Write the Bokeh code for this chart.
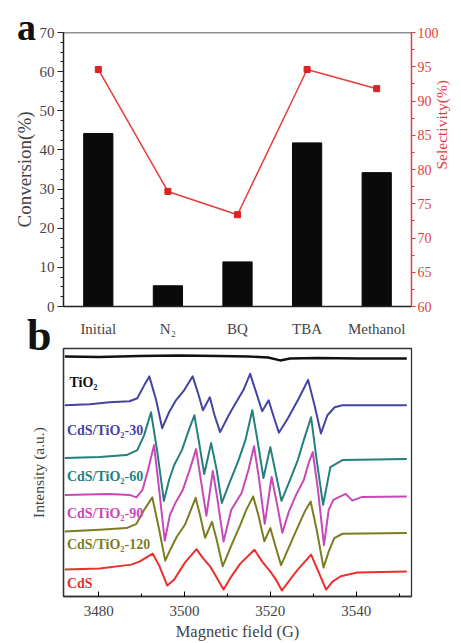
import math
from bokeh.plotting import figure
from bokeh.models import (Range1d, LinearAxis, FixedTicker, SingleIntervalTicker,
                          Label, Span, FactorRange, Div)
from bokeh.layouts import column
from bokeh.embed import file_html
from bokeh.resources import INLINE

SERIF = "Liberation Serif"

# ---------------- Panel a data ----------------
categories = ["Initial", "N\u2082", "BQ", "TBA", "Methanol"]
conversion = [44.2, 5.3, 11.4, 41.8, 34.2]
selectivity = [94.6, 76.8, 73.4, 94.6, 91.8]

# ---------------- Panel b data (EPR spectra) ----------------
field_tio2 = [3472.1, 3480.2, 3489.5, 3498.7, 3507.9, 3514.9, 3519.5, 3522.3, 3524.6, 3531.0, 3540.3, 3551.8]
int_tio2 = [241, 240.5, 241.5, 242, 241.5, 241, 240, 237, 239, 239.5, 239, 239]

field_30 = [3472.1, 3477.9, 3482.5, 3487.2, 3489.0, 3490.6, 3491.8, 3493.4, 3494.8, 3496.4, 3498.0,
            3499.9, 3501.9, 3503.1, 3504.3, 3505.9, 3507.0, 3508.3, 3510.3, 3511.9, 3513.7, 3515.3,
            3516.7, 3518.1, 3519.6, 3520.9, 3522.0, 3524.1, 3526.4, 3527.6, 3528.8, 3530.3, 3531.8,
            3533.3, 3535.0, 3536.8, 3544.9, 3551.8]
int_30 = [192, 193, 195, 196, 199, 212, 221, 197, 169, 185, 197,
          207, 221, 205, 187, 200, 182, 165, 182, 194, 207, 223.5,
          205, 186, 197, 179, 164.5, 179, 197, 207, 217.5, 192, 163.7,
          182, 190, 192, 192, 192]

field_60 = [3472.1, 3480.2, 3486.5, 3489.0, 3490.6, 3492.2, 3493.6, 3495.2, 3496.4, 3497.6, 3499.4,
            3501.0, 3502.3, 3503.3, 3504.6, 3506.2, 3507.5, 3508.7, 3510.3, 3512.6, 3514.2, 3515.8,
            3517.0, 3518.4, 3520.0, 3521.1, 3522.6, 3524.6, 3526.4, 3527.8, 3529.5, 3530.8, 3532.3,
            3534.0, 3536.8, 3551.8]
int_60 = [139, 140, 142, 147, 162, 185, 147, 96, 117, 132, 147,
          167, 182, 157, 123, 154, 127, 94, 112, 137, 157, 187,
          157, 119, 150, 127, 96, 117, 137, 157, 180, 137, 92,
          130, 137, 138]

field_90 = [3472.1, 3482.5, 3487.2, 3488.8, 3490.2, 3491.5, 3492.9, 3494.1, 3495.4, 3496.6, 3498.0,
            3499.6, 3501.2, 3502.7, 3503.8, 3505.1, 3506.6, 3507.7, 3509.1, 3510.9, 3513.3, 3514.9,
            3516.2, 3517.4, 3518.7, 3520.3, 3521.6, 3522.8, 3524.3, 3526.0, 3527.8, 3529.0, 3529.9,
            3531.1, 3532.5, 3533.6, 3534.7, 3536.1, 3537.6, 3539.1, 3541.4, 3551.8]
int_90 = [102, 103, 102, 99.5, 107, 127, 152, 107, 56, 82, 95,
          107, 127, 148, 117, 81, 126, 97, 55.3, 87, 104, 127,
          151, 117, 73, 120, 92, 64, 85, 102, 117, 135, 145,
          107, 51.5, 87, 97, 100, 103, 96.3, 100, 100.3]

field_120 = [3472.1, 3480.2, 3486.5, 3488.8, 3490.6, 3492.5, 3494.1, 3495.5, 3496.9, 3498.2, 3500.1,
             3502.6, 3503.6, 3504.8, 3506.4, 3507.5, 3508.9, 3510.7, 3513.0, 3514.4, 3516.0, 3517.2,
             3518.6, 3520.0, 3521.1, 3522.5, 3524.6, 3526.8, 3528.0, 3529.4, 3530.8, 3532.4, 3533.6,
             3534.9, 3536.8, 3551.8]
int_120 = [65.3, 67, 68.7, 73, 87, 99.5, 67, 36, 49, 60, 72,
           99, 82, 59, 75, 57, 30.3, 49, 72, 87, 100.5, 82,
           55.5, 68.7, 52, 31.5, 52, 73.7, 85, 95.3, 67, 29, 45,
           58.7, 63, 63.7]

field_cds = [3472.1, 3480.2, 3487.6, 3489.5, 3492.6, 3494.1, 3496.0, 3497.6, 3500.1, 3502.8, 3504.2,
             3506.0, 3507.5, 3509.1, 3510.9, 3513.0, 3516.3, 3518.1, 3520.1, 3521.3, 3522.7, 3524.6,
             3526.4, 3529.5, 3531.0, 3533.0, 3534.5, 3536.4, 3540.3, 3551.8]
int_cds = [27, 28, 32, 35, 43, 31, 11, 17, 34, 47.5, 39,
           30, 19, 7, 20, 33, 47, 35, 24.5, 17, 6, 17,
           27, 42, 27, 7, 15, 20.3, 24, 25]

spectra_names = ["TiO\u2082", "CdS/TiO\u2082-30", "CdS/TiO\u2082-60", "CdS/TiO\u2082-90",
                 "CdS/TiO\u2082-120", "CdS"]
spectra_fields = [field_tio2, field_30, field_60, field_90, field_120, field_cds]
spectra_ints = [int_tio2, int_30, int_60, int_90, int_120, int_cds]
spectra_colors = ["#111111", "#4444a4", "#23807c", "#c848b8", "#7c7c22", "#e8302c"]
label_x = [3473.2, 3472.6, 3472.6, 3472.6, 3472.6, 3472.6]
label_y = [214.5, 166.5, 120.5, 83.5, 52.5, 13.5]

RED = "#e43c3c"
W = 461
HA = 347
HB = 643 - HA

# ================= Panel a =================
pa = figure(width=W, height=HA, x_range=FactorRange(*categories), y_range=Range1d(0, 70),
            output_backend="svg", toolbar_location=None,
            min_border_left=62, min_border_right=43, min_border_top=32, min_border_bottom=41)
pa.outline_line_color = None
pa.xgrid.visible = False
pa.ygrid.visible = False
pa.extra_y_ranges = {"sel": Range1d(60, 100)}

pa.vbar(x=categories, top=conversion, width=0.42, color="#0a0a0a")
pa.line(x=categories, y=selectivity, y_range_name="sel", color=RED, line_width=1.5)
pa.scatter(x=categories, y=selectivity, y_range_name="sel", marker="square", size=6,
           color="#dd2222")

pa.add_layout(Span(location=70, dimension="width", line_color="#222222", line_width=1.5))

ya = pa.yaxis[0]
ya.ticker = SingleIntervalTicker(interval=10, num_minor_ticks=4)
ya.axis_label = "Conversion(%)"
ya.axis_label_text_font = SERIF
ya.axis_label_text_font_style = "normal"
ya.axis_label_text_font_size = "19px"
ya.axis_label_standoff = 2
ya.major_label_text_font = SERIF
ya.major_label_text_font_size = "15px"
ya.major_label_standoff = 3
ya.major_tick_out = 6
ya.major_tick_in = 0
ya.minor_tick_out = 3
ya.minor_tick_in = 0
ya.axis_line_width = 1.5
ya.axis_line_color = "#222222"
ya.major_tick_line_color = "#222222"
ya.minor_tick_line_color = "#222222"

xa = pa.xaxis[0]
xa.major_tick_line_color = None
xa.minor_tick_line_color = None
xa.major_label_text_font = SERIF
xa.major_label_text_font_size = "15px"
xa.major_label_standoff = 8
xa.axis_line_width = 1.5
xa.axis_line_color = "#222222"

ra = LinearAxis(y_range_name="sel", ticker=SingleIntervalTicker(interval=5, num_minor_ticks=2))
ra.axis_line_color = RED
ra.axis_line_width = 1.5
ra.major_tick_line_color = RED
ra.minor_tick_line_color = RED
ra.major_tick_out = 4
ra.major_tick_in = 0
ra.minor_tick_out = 3
ra.minor_tick_in = 0
ra.major_label_text_color = RED
ra.major_label_text_font = SERIF
ra.major_label_text_font_size = "14px"
ra.major_label_standoff = 2
ra.axis_label = "Selectivity(%)"
ra.axis_label_text_color = RED
ra.axis_label_text_font = SERIF
ra.axis_label_text_font_style = "normal"
ra.axis_label_text_font_size = "15.5px"
ra.axis_label_standoff = 0
if "axis_label_orientation" in ra.properties():
    ra.axis_label_orientation = math.pi / 2
pa.add_layout(ra, "right")

# ================= Panel b =================
pb = figure(width=W, height=HB, x_range=Range1d(3471.8, 3552.9), y_range=Range1d(0, 249),
            output_backend="svg", toolbar_location=None,
            min_border_left=63, min_border_right=47, min_border_top=1, min_border_bottom=46)
pb.outline_line_color = "#333333"
pb.outline_line_width = 1.3
pb.xgrid.visible = False
pb.ygrid.visible = False

for fx, fy, col, nm, lx, ly in zip(spectra_fields, spectra_ints, spectra_colors, spectra_names,
                                   label_x, label_y):
    pb.line(x=fx, y=fy, color=col, line_width=2.4 if col == "#111111" else 2.0,
            line_join="round")
    pb.add_layout(Label(x=lx, y=ly, text=nm, text_color=col, text_font=SERIF,
                        text_font_style="bold", text_font_size="14px", text_baseline="middle"))

xb = pb.xaxis[0]
xb.ticker = SingleIntervalTicker(interval=20, num_minor_ticks=2)
xb.axis_label = "Magnetic field (G)"
xb.axis_label_text_font = SERIF
xb.axis_label_text_font_style = "normal"
xb.axis_label_text_font_size = "16.5px"
xb.axis_label_standoff = 3
xb.major_label_text_font = SERIF
xb.major_label_text_font_size = "15px"
xb.major_label_standoff = 9
xb.major_tick_in = 5
xb.major_tick_out = 0
xb.minor_tick_in = 3
xb.minor_tick_out = 0
xb.axis_line_color = "#333333"
xb.axis_line_width = 1.3

yb = pb.yaxis[0]
yb.ticker = FixedTicker(ticks=[])
yb.axis_label = "Intensity (a.u.)"
yb.axis_label_text_font = SERIF
yb.axis_label_text_font_style = "normal"
yb.axis_label_text_font_size = "15.5px"
yb.axis_label_standoff = 17
yb.axis_line_color = "#333333"
yb.axis_line_width = 1.3
yb.major_tick_line_color = None
yb.minor_tick_line_color = None

# ================= panel letters (HTML, positioned over the figures) =================
LETTER_HTML = ('<span style="font-family:\'Liberation Serif\',serif;font-weight:bold;'
               'font-size:{size}px;line-height:{size}px;color:#111111">{ch}</span>')
div_a = Div(text=LETTER_HTML.format(size=38, ch="a"), width=30, height=40,
            styles={"position": "absolute", "left": "12px", "top": "3px", "z-index": "10",
                    "overflow": "visible"})
div_b = Div(text=LETTER_HTML.format(size=44, ch="b"), width=30, height=44,
            styles={"position": "absolute", "left": "22px", "top": "309px", "z-index": "10",
                    "overflow": "visible"})

layout = column(pa, pb, div_a, div_b, spacing=0)
open("out.html", "w").write(file_html(layout, INLINE))
